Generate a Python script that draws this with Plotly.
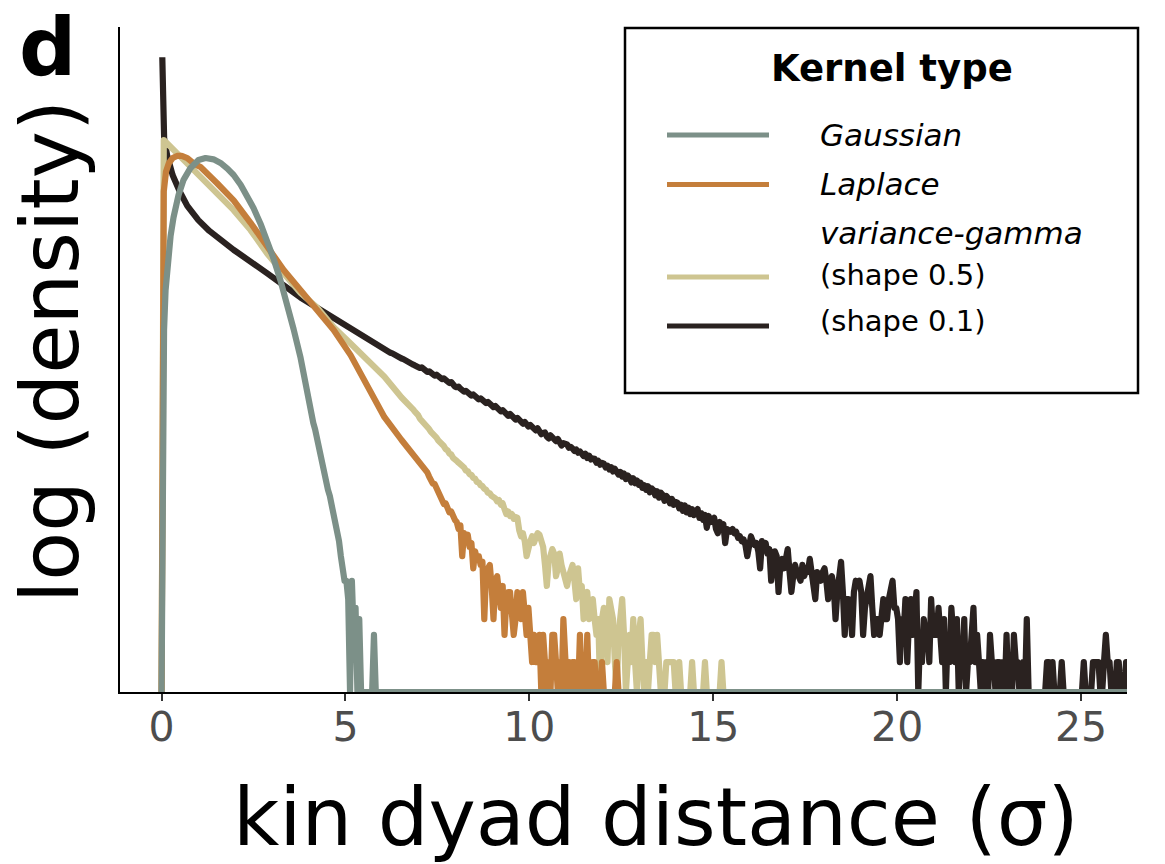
import numpy as np
import plotly.graph_objects as go

# ---------------------------------------------------------------------------
# Histogram of simulated kin-dyad distances (in units of sigma), one per
# dispersal-kernel type.  Counts are per 0.05-sigma bin; the first part of
# each curve is given at selected bins, the rest bin by bin.
# ---------------------------------------------------------------------------
N_DRAWS = 20_000_000
BIN_WIDTH = 0.05
X_END = 26.3

KERNEL_NAMES = ["Gaussian", "Laplace",
                "variance-gamma (shape 0.5)", "variance-gamma (shape 0.1)"]
KERNEL_COLORS = ["#7C9088", "#C47E3B", "#CEC591", "#2A2220"]

X_TICKS = [0, 5, 10, 15, 20, 25]
X_TICK_LABELS = ["0", "5", "10", "15", "20", "25"]

# --- Gaussian ---------------------------------------------------------------
GAUSS_HEAD_X = [0.0, 0.027, 0.068, 0.109, 0.163, 0.245, 0.326, 0.462, 0.598,
                0.788, 1.005, 1.196, 1.413, 1.603, 1.79, 1.96, 2.15, 2.34, 2.5,
                2.69, 2.88, 3.04, 3.23, 3.42, 3.59, 3.78, 3.97]
GAUSS_HEAD_N = [0, 490, 4900, 13500, 27700, 54000, 87500, 155000, 228000,
                309000, 378000, 398000, 385000, 351000, 304000, 258000, 201000,
                151000, 111000, 74300, 47600, 30800, 17550, 9500, 5000, 2400,
                975]
GAUSS_TAIL_X0 = 4.0
GAUSS_TAIL_N = [620, 545, 455, 385, 300, 255, 205, 168, 128, 104,
                82, 70, 56, 45, 38, 31, 22, 15, 12, 8,
                8, 5, 0, 8, 2, 4, 0, 3, 0, 0,
                0, 0, 0, 0, 0, 2, 0, 0, 0, 0]

# --- Laplace ----------------------------------------------------------------
LAPLACE_HEAD_X = [0.0, 0.02, 0.06, 0.12, 0.2, 0.3, 0.42, 0.55, 0.7, 0.88,
                  1.06, 1.51, 1.96, 2.42, 2.87, 3.32, 3.78, 4.23, 4.68, 5.14,
                  5.6, 6.06, 6.52]
LAPLACE_HEAD_N = [0, 30000, 170000, 280000, 350000, 398000, 420000, 420000,
                  398000, 345000, 316000, 209000, 135000, 75900, 40700, 22700,
                  13500, 8130, 4900, 2570, 1200, 525, 295]
LAPLACE_TAIL_X0 = 7.0
LAPLACE_TAIL_N = (
    [165, 156, 142, 132, 128, 115, 103, 96, 95, 84, 74, 72, 64, 57, 58, 50, 46, 47, 40, 38]
    + [36, 30, 33, 15, 27, 24, 26, 19, 21, 11, 17, 14, 15, 12, 13, 3, 10, 11, 12, 7]
    + [3, 8, 9, 6, 4, 7, 2, 5, 6, 6, 4, 2, 3, 6, 5, 3, 6, 4, 2, 4]
    + [2, 1, 2, 1, 1, 2, 0, 2, 1, 0, 1, 0, 2, 2, 1, 0, 1, 0, 3, 1]
    + [0, 1, 0, 1, 1, 0, 0, 2, 0, 1, 0, 2, 0, 0, 1, 1, 0, 0, 0, 1]
    + [0, 0, 0, 0, 0, 0, 0, 1, 0, 0]
)

# --- variance-gamma, shape 0.5 -------------------------------------------------
VG05_HEAD_X = [0.0, 0.06, 0.6, 1.06, 1.51, 1.96, 2.42, 2.87, 3.32, 3.78, 4.23,
               4.68, 5.14, 5.6, 6.06]
VG05_HEAD_N = [0, 631000, 380000, 245000, 162000, 105000, 63000, 34700, 20900,
               12600, 8700, 5250, 3470, 2290, 1480]
VG05_TAIL_X0 = 6.5
VG05_TAIL_N = (
    [870, 820, 790, 745, 720, 675, 650, 615, 595, 555]
    + [505, 482, 450, 430, 404, 388, 360, 346, 322, 311, 289, 280, 259, 251, 232, 225, 207, 203, 186, 182]
    + [172, 164, 159, 148, 145, 134, 132, 122, 120, 111, 109, 100, 99, 92, 90, 84, 82, 76, 75, 70]
    + [68, 66, 61, 63, 56, 58, 50, 44, 47, 42, 44, 39, 41, 40, 29, 25, 27, 22, 15, 20]
    + [22, 25, 21, 24, 27, 26, 22, 19, 12, 7, 13, 15, 18, 16, 9, 11, 16, 12, 10, 9]
    + [7, 9, 11, 12, 8, 5, 11, 6, 7, 3, 5, 6, 3, 4, 5, 3, 2, 3, 0, 3]
    + [4, 3, 1, 5, 4, 3, 1, 0, 2, 4, 5, 2, 0, 1, 2, 1, 3, 1, 0, 2]
    + [3, 1, 0, 1, 0, 1, 2, 2, 1, 2, 1, 0, 0, 0, 1, 1, 1, 1, 1, 0]
    + [0, 1, 0, 0, 0, 0, 0, 0, 1, 0, 0, 0, 0, 0, 0, 1, 0, 0, 0, 0]
    + [0, 0, 0, 0, 1, 0, 0, 0, 0, 0]
)

# --- variance-gamma, shape 0.1 -------------------------------------------------
VG01_HEAD_X = [0.02, 0.07, 0.15, 0.3, 0.5, 0.7, 1.0, 1.3, 1.96, 2.4, 2.87,
               3.78, 4.67, 5.6]
VG01_HEAD_N = [5250000, 664000, 430000, 258000, 167000, 117000, 81300, 61700,
               38000, 27800, 20900, 11200, 6610, 3980]
VG01_TAIL_X0 = 6.0
VG01_TAIL_N = (
    [3040, 2950, 2890, 2830, 2730, 2690, 2600, 2560, 2480, 2430, 2360, 2320, 2240, 2210, 2130, 2090, 2030, 1990, 1930, 1890]
    + [1850, 1880, 1790, 1700, 1670, 1700, 1610, 1540, 1520, 1560, 1480, 1410, 1390, 1420, 1340, 1280, 1260, 1290, 1200, 1150]
    + [1130, 1150, 1090, 1030, 1010, 1030, 990, 930, 915, 940, 900, 840, 830, 850, 815, 765, 755, 775, 735, 690]
    + [680, 700, 660, 620, 610, 630, 600, 555, 545, 570, 540, 500, 495, 515, 485, 450, 445, 465, 440, 415]
    + [430, 410, 385, 375, 395, 370, 340, 350, 355, 320, 305, 330, 315, 290, 285, 300, 275, 255, 270, 262]
    + [262, 240, 246, 236, 221, 230, 212, 219, 208, 195, 206, 185, 196, 178, 183, 181, 164, 172, 156, 163]
    + [160, 145, 152, 138, 146, 131, 140, 133, 121, 129, 115, 124, 108, 118, 112, 99, 110, 97, 104, 93]
    + [98, 86, 92, 82, 90, 77, 85, 81, 71, 79, 67, 76, 72, 62, 70, 66, 58, 65, 56, 60]
    + [59, 51, 56, 48, 55, 46, 52, 44, 50, 43, 47, 50, 40, 45, 38, 43, 31, 42, 36, 39]
    + [40, 30, 27, 36, 33, 34, 21, 30, 29, 28, 30, 27, 28, 24, 25, 22, 23, 20, 15, 22]
    + [25, 22, 20, 21, 17, 11, 22, 19, 21, 16, 18, 8, 14, 17, 15, 6, 12, 14, 11, 15]
    + [18, 10, 6, 9, 12, 10, 9, 8, 12, 9, 11, 10, 14, 9, 7, 5, 10, 9, 8, 10]
    + [11, 8, 5, 8, 9, 7, 3, 6, 9, 13, 6, 2, 5, 5, 4, 2, 6, 8, 7, 8]
    + [6, 2, 4, 5, 7, 9, 4, 2, 3, 3, 2, 4, 5, 3, 3, 5, 6, 8, 4, 4]
    + [3, 1, 3, 2, 5, 1, 3, 5, 2, 3, 6, 0, 2, 1, 3, 2, 2, 1, 5, 2]
    + [2, 2, 4, 2, 1, 3, 0, 2, 1, 4, 2, 1, 3, 0, 1, 1, 3, 0, 1, 1]
    + [2, 4, 1, 2, 1, 0, 1, 0, 1, 0, 2, 1, 1, 0, 1, 1, 0, 1, 0, 2]
    + [0, 1, 0, 2, 1, 1, 0, 0, 1, 0, 3, 0, 0, 0, 0, 0, 0, 0, 0, 0]
    + [0, 1, 1, 0, 1, 0, 0, 0, 0, 1, 0, 0, 0, 0, 0, 0, 0, 0, 0, 0]
    + [0, 1, 0, 0, 0, 0, 1, 1, 1, 1, 0, 0, 1, 2, 1, 1, 0, 0, 0, 1]
    + [1, 0, 0, 0, 1, 1]
)

# log10-density axis limits; empty bins sit on the lower limit (log 0 = -Inf)
Y_FLOOR = -6.333
Y_TOP = 1.056


def log_density(head_x, head_n, tail_x0, tail_n):
    tail_x = tail_x0 + BIN_WIDTH * (np.arange(len(tail_n)) + 0.5)
    last_edge = tail_x0 + BIN_WIDTH * len(tail_n)
    n_pad = max(int(round((X_END - last_edge) / BIN_WIDTH)), 0)
    pad_x = last_edge + BIN_WIDTH * (np.arange(n_pad) + 0.5)
    x = np.concatenate([np.asarray(head_x, float), tail_x, pad_x])
    n = np.concatenate([np.asarray(head_n, float),
                        np.asarray(tail_n, float), np.zeros(n_pad)])
    dens = n / (N_DRAWS * BIN_WIDTH)
    y = np.full_like(dens, Y_FLOOR)
    y[n > 0] = np.log10(dens[n > 0])
    return x, y


series = [
    log_density(GAUSS_HEAD_X, GAUSS_HEAD_N, GAUSS_TAIL_X0, GAUSS_TAIL_N),
    log_density(LAPLACE_HEAD_X, LAPLACE_HEAD_N, LAPLACE_TAIL_X0, LAPLACE_TAIL_N),
    log_density(VG05_HEAD_X, VG05_HEAD_N, VG05_TAIL_X0, VG05_TAIL_N),
    log_density(VG01_HEAD_X, VG01_HEAD_N, VG01_TAIL_X0, VG01_TAIL_N),
]

fig = go.Figure()
# heaviest-tailed kernel first so the Gaussian ends up on top
for i in [3, 2, 1, 0]:
    x, y = series[i]
    fig.add_trace(go.Scatter(
        x=x, y=y, mode="lines", name=KERNEL_NAMES[i], showlegend=False,
        line=dict(color=KERNEL_COLORS[i], width=6.2),
        hoverinfo="skip",
    ))

# ---------------------------------------------------------------------------
# Layout
# ---------------------------------------------------------------------------
FIG_W, FIG_H = 1165, 864
PLOT_L, PLOT_R, PLOT_T, PLOT_B = 120, 1127, 27, 692
FONT = "DejaVu Sans"


def fx(px):
    return (px - PLOT_L) / (PLOT_R - PLOT_L)


def fy(py):
    return (PLOT_B - py) / (PLOT_B - PLOT_T)


fig.update_layout(
    width=FIG_W, height=FIG_H, autosize=False,
    margin=dict(l=PLOT_L, r=FIG_W - PLOT_R, t=PLOT_T, b=FIG_H - PLOT_B, pad=0),
    paper_bgcolor="white", plot_bgcolor="white",
    font=dict(family=FONT, color="black"),
    xaxis=dict(
        range=[-1.13, 26.25], tickmode="array", tickvals=X_TICKS,
        ticktext=X_TICK_LABELS, ticks="outside", ticklen=7, tickwidth=2,
        tickcolor="#333333", showline=True, linewidth=2, linecolor="black",
        showgrid=False, zeroline=False, layer="below traces",
        ticklabelstandoff=-9,
        tickfont=dict(family=FONT, size=41, color="#4D4D4D"),
    ),
    yaxis=dict(
        range=[Y_FLOOR, Y_TOP], showline=True, linewidth=2, linecolor="black",
        showticklabels=False, ticks="", showgrid=False, zeroline=False,
        layer="below traces",
    ),
)

annotations = [
    dict(text="<b>d</b>", x=fx(47), y=fy(47), font=dict(size=80)),
    dict(text="log (density)", x=fx(50), y=fy(352), textangle=-90,
         font=dict(size=80)),
    dict(text="kin dyad distance (σ)", x=fx(656), y=fy(817),
         font=dict(size=80)),
]

# legend panel
LEGEND_BOX = (625, 28, 1138, 393)
KEY_X = (667, 769)
KEY_Y = [135, 184.5, 277, 326]
LABEL_X = 818
LEGEND_LINES = [
    ("<i>Gaussian</i>", 135, 31),
    ("<i>Laplace</i>", 184, 31),
    ("<i>variance-gamma</i>", 233, 31),
    ("(shape 0.5)", 275, 29),
    ("(shape 0.1)", 321, 29),
]

shapes = [dict(type="rect", xref="paper", yref="paper",
               x0=fx(LEGEND_BOX[0]), x1=fx(LEGEND_BOX[2]),
               y0=fy(LEGEND_BOX[3]), y1=fy(LEGEND_BOX[1]),
               line=dict(color="black", width=2.5), fillcolor="white",
               layer="above")]
for color, ky in zip(KERNEL_COLORS, KEY_Y):
    shapes.append(dict(type="line", xref="paper", yref="paper",
                       x0=fx(KEY_X[0]), x1=fx(KEY_X[1]), y0=fy(ky), y1=fy(ky),
                       line=dict(color=color, width=5), layer="above"))

annotations.append(dict(text="<b>Kernel type</b>", x=fx(892), y=fy(68),
                        font=dict(size=37)))
for txt, ly, size in LEGEND_LINES:
    annotations.append(dict(text=txt, x=fx(LABEL_X), y=fy(ly), xanchor="left",
                            font=dict(size=size)))

for a in annotations:
    a.setdefault("xanchor", "center")
    a.setdefault("yanchor", "middle")
    a.update(xref="paper", yref="paper", showarrow=False)
    a["font"] = dict(family=FONT, color="black", **a["font"])

fig.update_layout(shapes=shapes, annotations=annotations)

ROUND_JOINS = (
    "var s=document.createElement('style');"
    "s.innerHTML='.scatterlayer .js-line{stroke-linejoin:round !important;}';"
    "document.head.appendChild(s);"
)
fig.write_html("out.html", post_script=ROUND_JOINS)
